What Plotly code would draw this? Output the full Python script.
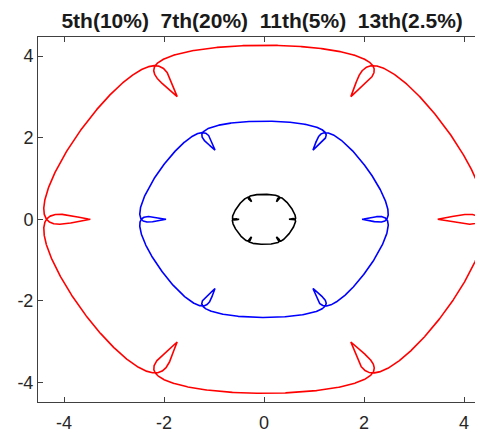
import numpy as np
import plotly.graph_objects as go

# Harmonic spectrum (from the title): order, % of fundamental, sequence, phase
harmonic_order = [1, 5, 7, 11, 13]
harmonic_pct = [100.0, 10.0, 20.0, 5.0, 2.5]
harmonic_seq = [1, -1, 1, -1, 1]
harmonic_phase_deg = [0, 0, 180, 180, 0]

# Fundamental amplitude of each trajectory
curve_names = ["red", "blue", "black"]
curve_amplitude = [3.97, 2.24, 0.57]
curve_color = ["#ff0000", "#0000ff", "#000000"]

tick_vals = [-4, -2, 0, 2, 4]
tick_text = ["-4", "-2", "0", "2", "4"]

theta = np.linspace(0, 2 * np.pi, 6001)

fig = go.Figure()
for name, amp, col in zip(curve_names, curve_amplitude, curve_color):
    z = np.zeros_like(theta, dtype=complex)
    for h, p, s, ph in zip(harmonic_order, harmonic_pct, harmonic_seq, harmonic_phase_deg):
        z += amp * p / 100.0 * np.exp(1j * s * (h * theta + np.deg2rad(ph)))
    fig.add_trace(go.Scatter(x=z.real, y=z.imag, mode="lines", name=name,
                             line=dict(color=col, width=1.6), hoverinfo="skip"))

# page body has an 8px margin, so the figure is 475x428 placed at (8, 8)
fig.update_layout(
    width=475, height=428,
    margin=dict(l=30, r=0, t=29, b=34, autoexpand=False),
    paper_bgcolor="white", plot_bgcolor="white",
    showlegend=False,
    title=dict(text="<b>5th(10%)  7th(20%)  11th(5%)  13th(2.5%)</b>",
               x=0.535, xanchor="center", y=0.97, yanchor="middle", yref="container",
               font=dict(family="Liberation Sans, Arial", size=21, color="#1a1a1a")),
    font=dict(family="Liberation Sans, Arial", size=18, color="#262626"),
)
fig.update_xaxes(range=[-4.52, 4.38], tickvals=tick_vals, ticktext=tick_text,
                 ticks="inside", ticklen=5, automargin=False, ticklabelstandoff=4,
                 tickcolor="#404040", showline=True, linecolor="#404040", linewidth=1,
                 mirror="ticks", showgrid=False, zeroline=False)
fig.update_yaxes(range=[-4.48, 4.47], tickvals=tick_vals, ticktext=tick_text,
                 ticks="inside", ticklen=5, automargin=False,
                 tickcolor="#404040", showline=True, linecolor="#404040", linewidth=1,
                 showgrid=False, zeroline=False)

fig.write_html("out.html")
